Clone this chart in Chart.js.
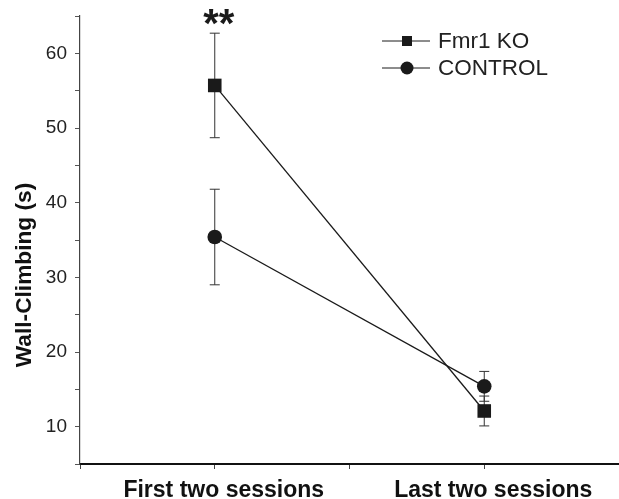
<!DOCTYPE html>
<html>
<head>
<meta charset="utf-8">
<script src="https://cdn.jsdelivr.net/npm/chart.js@4/dist/chart.umd.min.js"></script>
<style>
html,body{margin:0;padding:0;background:#fff;}
#wrap{width:619px;height:499px;}
</style>
</head>
<body>
<div id="wrap"><canvas id="c" width="619" height="499"></canvas></div>
<script>
// ---- data ----
const categories = ["First two sessions", "Last two sessions"];
const categoryX = [1, 2];
const seriesNames = ["Fmr1 KO", "CONTROL"];
const koMeans = [55.7, 12.1];
const koErr = [7.0, 2.0];
const ctrlMeans = [35.4, 15.4];
const ctrlErr = [6.4, 2.0];
const yTicksMajor = [10, 20, 30, 40, 50, 60];
const yTitle = "Wall-Climbing (s)";
const significance = ["**", ""];

const FONT = "'Liberation Sans', Arial, Helvetica, sans-serif";
const INK = '#1a1a1a';

const errorBars = {
  id: 'errorBars',
  beforeDatasetsDraw(chart) {
    const ctx = chart.ctx;
    const xs = chart.scales.x, ys = chart.scales.y;
    ctx.save();
    ctx.strokeStyle = '#333';
    ctx.lineWidth = 1;
    chart.data.datasets.forEach(ds => {
      ds.data.forEach((p, i) => {
        const e = ds.errors[i];
        const x = xs.getPixelForValue(p.x);
        const yt = ys.getPixelForValue(p.y + e);
        const yb = ys.getPixelForValue(p.y - e);
        ctx.beginPath();
        ctx.moveTo(x, yt); ctx.lineTo(x, yb);
        ctx.moveTo(x - 5, yt); ctx.lineTo(x + 5, yt);
        ctx.moveTo(x - 5, yb); ctx.lineTo(x + 5, yb);
        ctx.stroke();
      });
    });
    ctx.restore();
  },
  afterDatasetsDraw(chart) {
    const ctx = chart.ctx;
    const xs = chart.scales.x, ys = chart.scales.y;
    ctx.save();
    ctx.fillStyle = INK;
    ctx.font = "bold 40px " + FONT;
    ctx.textAlign = 'center';
    ctx.textBaseline = 'alphabetic';
    significance.forEach((s, i) => {
      if (!s) return;
      const top = Math.max(koMeans[i] + koErr[i], ctrlMeans[i] + ctrlErr[i]);
      const x = xs.getPixelForValue(categoryX[i]) + 4;
      const y = ys.getPixelForValue(top) + 4;
      ctx.fillText(s, x, y);
    });
    ctx.restore();
  }
};

const customLegend = {
  id: 'customLegend',
  afterDraw(chart) {
    const ctx = chart.ctx;
    ctx.save();
    // y-axis title
    ctx.fillStyle = '#111';
    ctx.font = "bold 22.7px " + FONT;
    ctx.textAlign = 'center';
    ctx.textBaseline = 'middle';
    ctx.translate(25, 275);
    ctx.rotate(-Math.PI / 2);
    ctx.fillText(yTitle, 0, 0);
    ctx.setTransform(1, 0, 0, 1, 0, 0);
    // legend
    const rows = [41, 68];
    chart.data.datasets.forEach((ds, i) => {
      const y = rows[i];
      ctx.strokeStyle = INK;
      ctx.lineWidth = 1;
      ctx.beginPath();
      ctx.moveTo(382, y); ctx.lineTo(430, y);
      ctx.stroke();
      ctx.fillStyle = INK;
      if (ds.pointStyle === 'rect') {
        ctx.fillRect(402, y - 5, 10, 10);
      } else {
        ctx.beginPath();
        ctx.arc(407, y, 6.5, 0, Math.PI * 2);
        ctx.fill();
      }
      ctx.font = "22.5px " + FONT;
      ctx.textAlign = 'left';
      ctx.textBaseline = 'middle';
      ctx.fillStyle = '#222';
      ctx.fillText(ds.label, 438, y + 1);
    });
    ctx.restore();
  }
};

const mk = (means) => means.map((v, i) => ({x: categoryX[i], y: v}));

new Chart(document.getElementById('c'), {
  type: 'line',
  data: {
    datasets: [
      {
        label: seriesNames[0],
        data: mk(koMeans),
        errors: koErr,
        borderColor: INK,
        borderWidth: 1.3,
        backgroundColor: INK,
        pointStyle: 'rect',
        pointRadius: 9.6,
        pointBackgroundColor: INK,
        pointBorderWidth: 0,
        tension: 0,
        clip: false
      },
      {
        label: seriesNames[1],
        data: mk(ctrlMeans),
        errors: ctrlErr,
        borderColor: INK,
        borderWidth: 1.3,
        backgroundColor: INK,
        pointStyle: 'circle',
        pointRadius: 7.3,
        pointBackgroundColor: INK,
        pointBorderWidth: 0,
        tension: 0,
        clip: false
      }
    ]
  },
  options: {
    responsive: false,
    animation: false,
    events: [],
    layout: {autoPadding: false, padding: {top: 16, right: 0, left: 0, bottom: 0}},
    plugins: {legend: {display: false}, tooltip: {enabled: false}},
    scales: {
      x: {
        type: 'linear',
        min: 0.5, max: 2.5,
        afterFit: s => { s.height = 35; s.paddingRight = 0; s.paddingLeft = 0; },
        afterBuildTicks: s => {
          s.ticks = [0.5, 1, 1.5, 2, 2.5].map(v => ({value: v}));
        },
        ticks: {
          autoSkip: false,
          maxRotation: 0,
          padding: 8,
          labelOffset: 9,
          color: '#111',
          font: {family: FONT, size: 23, weight: 'bold'},
          callback: v => {
            const i = categoryX.indexOf(v);
            return i >= 0 ? categories[i] : '';
          }
        },
        grid: {drawOnChartArea: false, tickLength: 5, tickColor: '#444', tickWidth: 1},
        border: {color: '#111', width: 2}
      },
      y: {
        min: 5, max: 65,
        afterFit: s => { s.width = 80; s.paddingTop = 0; s.paddingBottom = 0; },
        afterBuildTicks: s => {
          const t = [];
          for (let v = 5; v <= 65; v += 5) t.push({value: v});
          s.ticks = t;
        },
        ticks: {
          autoSkip: false,
          padding: 8,
          color: '#222',
          font: {family: FONT, size: 19},
          callback: v => yTicksMajor.includes(v) ? String(v) : ''
        },
        title: {display: false},
        grid: {drawOnChartArea: false, tickLength: 5, tickColor: '#555', tickWidth: 1},
        border: {color: '#444', width: 1.2}
      }
    }
  },
  plugins: [errorBars, customLegend]
});
</script>
</body>
</html>
